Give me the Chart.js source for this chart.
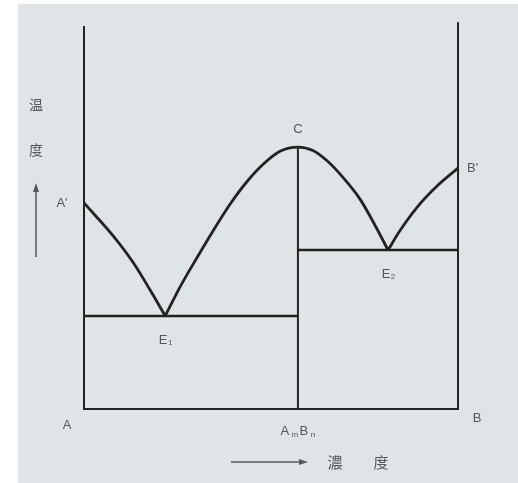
<!DOCTYPE html>
<html>
<head>
<meta charset="utf-8">
<script src="https://cdn.jsdelivr.net/npm/chart.js@4/dist/chart.umd.min.js"></script>
<style>
  html, body { margin: 0; padding: 0; background: #ffffff; }
  canvas { display: block; }
</style>
</head>
<body>
<canvas id="phaseChart" width="518" height="483"></canvas>
<script>
// 濃度 (0 = A, 100 = B) と温度 (相対値)
const leftX  = [0, 7.8, 13.1, 17.6, 21.7];
const leftT  = [53.8, 45.2, 38.3, 31.2, 24.3];
const domeX  = [21.7, 25.7, 30.2, 34.5, 39.0, 43.6, 47.9, 52.4, 57.2, 61.2, 65.0, 69.3, 73.8, 77.3, 81.3];
const domeT  = [24.3, 31.9, 39.5, 46.5, 53.4, 59.4, 63.9, 67.3, 68.4, 67.5, 64.8, 60.4, 54.8, 48.9, 41.5];
const rightX = [81.3, 84.5, 89.0, 94.4, 100];
const rightT = [41.5, 46.6, 52.6, 58.2, 62.9];

const compoundX = 57.2;          // AmBn
const eutecticX = [21.7, 81.3];  // E1, E2
const eutecticT = [24.3, 41.5];
const meltA = 53.8, meltB = 62.9, meltC = 68.4;

const toPts = (xs, ys) => xs.map((x, i) => ({ x: x, y: ys[i] }));

const ink = '#232323';
const textColor = '#55585b';
const jpFont = '"Noto Sans CJK JP", "Noto Sans", sans-serif';

// 背景 (紙の色)
const paperBg = {
    id: 'paperBg',
    beforeDraw(chart) {
        const ctx = chart.ctx;
        ctx.save();
        ctx.fillStyle = '#dfe4e6';
        ctx.fillRect(18, 4, chart.width - 18, chart.height - 4);
        ctx.restore();
    }
};

// ラベルと矢印
const labels = {
    id: 'labels',
    afterDraw(chart) {
        const ctx = chart.ctx;
        const xs = chart.scales.x, ys = chart.scales.y;
        const px = v => xs.getPixelForValue(v);
        const py = v => ys.getPixelForValue(v);

        ctx.save();
        ctx.fillStyle = textColor;
        ctx.strokeStyle = textColor;
        ctx.textAlign = 'center';
        ctx.textBaseline = 'middle';

        // 縦軸: 温度 ↑
        ctx.font = '14px ' + jpFont;
        ctx.fillText('温', 36, 105);
        ctx.fillText('度', 36, 150);
        ctx.lineWidth = 1.5;
        ctx.beginPath();
        ctx.moveTo(36, 257);
        ctx.lineTo(36, 190);
        ctx.stroke();
        ctx.beginPath();
        ctx.moveTo(36, 183);
        ctx.lineTo(33, 192);
        ctx.lineTo(39, 192);
        ctx.closePath();
        ctx.fill();

        // 横軸: → 濃度
        ctx.beginPath();
        ctx.moveTo(231, 462);
        ctx.lineTo(300, 462);
        ctx.stroke();
        ctx.beginPath();
        ctx.moveTo(308, 462);
        ctx.lineTo(299, 459);
        ctx.lineTo(299, 465);
        ctx.closePath();
        ctx.fill();
        ctx.font = '15px ' + jpFont;
        ctx.fillText('濃', 335, 462);
        ctx.fillText('度', 381, 462);

        // 点の名前
        ctx.font = '13px "Liberation Sans", sans-serif';
        ctx.fillText("A'", px(0) - 22, py(meltA));
        ctx.textAlign = 'left';
        ctx.fillText("B'", px(100) + 9, py(meltB));
        ctx.textAlign = 'center';
        ctx.fillText('C', px(compoundX), py(meltC) - 18);
        ctx.fillText('A', px(0) - 17, py(0) + 16);
        ctx.fillText('B', px(100) + 19, py(0) + 9);

        // E1, E2
        ctx.fillText('E', px(eutecticX[0]) - 2, py(eutecticT[0]) + 24);
        ctx.fillText('E', px(eutecticX[1]) - 2, py(eutecticT[1]) + 24);
        ctx.font = '8px "Liberation Sans", sans-serif';
        ctx.fillText('1', px(eutecticX[0]) + 5, py(eutecticT[0]) + 27);
        ctx.fillText('2', px(eutecticX[1]) + 5, py(eutecticT[1]) + 27);

        // AmBn
        const cx = px(compoundX), by = py(0) + 22;
        ctx.font = '13px "Liberation Sans", sans-serif';
        ctx.fillText('A', cx - 13, by);
        ctx.fillText('B', cx + 6, by);
        ctx.font = '8px "Liberation Sans", sans-serif';
        ctx.fillText('m', cx - 3, by + 4);
        ctx.fillText('n', cx + 15, by + 4);
        ctx.restore();
    }
};

const lineStyle = (data, width, smooth) => ({
    data: data,
    borderColor: ink,
    borderWidth: width,
    pointRadius: 0,
    fill: false,
    clip: false,
    cubicInterpolationMode: smooth ? 'monotone' : 'default',
    tension: 0
});

new Chart(document.getElementById('phaseChart'), {
    type: 'line',
    data: {
        datasets: [
            // 液相線
            lineStyle(toPts(leftX, leftT), 2.8, true),
            lineStyle(toPts(domeX, domeT), 2.8, true),
            lineStyle(toPts(rightX, rightT), 2.8, true),
            // 外枠と縦線
            lineStyle([{ x: 0, y: 100 }, { x: 0, y: 0 }, { x: 100, y: 0 }, { x: 100, y: 101 }], 2, false),
            lineStyle([{ x: compoundX, y: 0 }, { x: compoundX, y: meltC }], 2, false),
            // 共晶線
            lineStyle([{ x: 0, y: eutecticT[0] }, { x: compoundX, y: eutecticT[0] }], 2.4, false),
            lineStyle([{ x: compoundX, y: eutecticT[1] }, { x: 100, y: eutecticT[1] }], 2.4, false)
        ]
    },
    options: {
        responsive: false,
        animation: false,
        layout: { padding: { left: 84, right: 60, top: 26, bottom: 74 } },
        plugins: { legend: { display: false }, tooltip: { enabled: false } },
        scales: {
            x: { type: 'linear', min: 0, max: 100, display: false },
            y: { type: 'linear', min: 0, max: 100, display: false }
        }
    },
    plugins: [paperBg, labels]
});
</script>
</body>
</html>
